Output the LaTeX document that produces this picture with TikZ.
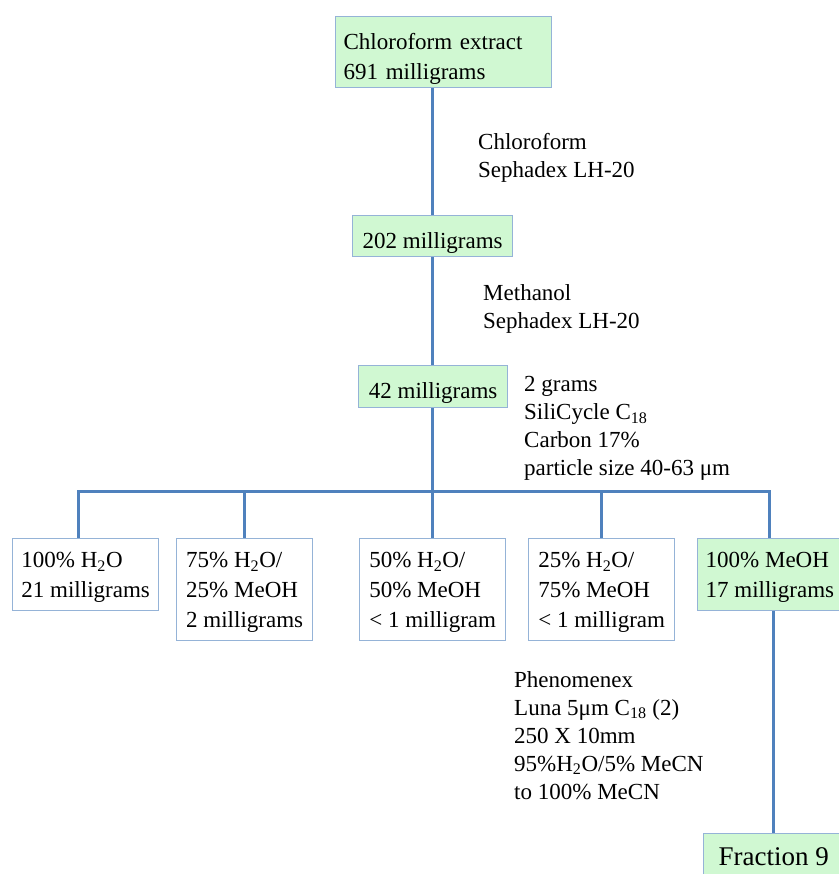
\documentclass[tikz,border=0pt]{standalone}
\usepackage{fontspec}
\setmainfont{Liberation Serif}
\usetikzlibrary{positioning}
\definecolor{linkblue}{RGB}{79,129,189}
\definecolor{boxblue}{RGB}{149,179,215}
\definecolor{stagegreen}{RGB}{208,248,210}

\begin{document}
\begin{tikzpicture}
  [x=1pt, y=-1pt,
   stage/.style={
     draw=boxblue,
     line width=1.3pt,
     anchor=north west,
     align=left,
     inner xsep=8pt,
     inner ysep=0pt,
     text depth=0pt,
     execute at begin node={\rule{0pt}{24pt}},
     font=\fontsize{23}{30}\selectfont
     },
   kept/.style={stage, fill=stagegreen},
   column/.style={anchor=north west, align=left, inner sep=0pt, font=\fontsize{23}{28}\selectfont},
   link/.style={draw=linkblue, line width=3pt}
  ]
  \useasboundingbox (0,0) rectangle (838,874);

  % fractions carried forward
  \node [kept, text width=200pt, text depth=30pt, minimum height=71pt] (extract) at (335,16) {Chloroform extract\\691 milligrams};
  \node [kept, minimum width=160pt, minimum height=41pt] (lhfirst) at (352,215) {202 milligrams};
  \node [kept, minimum width=149pt, minimum height=42pt] (lhsecond) at (358,365) {42 milligrams};

  % column conditions
  \node [column] (chlorotitle) at (478,133) {Chloroform\\Sephadex LH-20};
  \node [column] (methanoltitle) at (483,284) {Methanol\\Sephadex LH-20};
  \node [column] (silicatitle) at (524,376) {2 grams\\SiliCycle C\textsubscript{18}\\Carbon 17\%\\particle size 40-63 μm};
  \node [column] (lunatitle) at (514,671) {Phenomenex\\Luna 5μm C\textsubscript{18} (2)\\250 X 10mm\\95\%H\textsubscript{2}O/5\% MeCN\\to 100\% MeCN};

  % step gradient on C18
  \node [stage, minimum width=146pt, minimum height=72pt] (water) at (12,538) {100\% H\textsubscript{2}O\\21 milligrams};
  \node [stage, minimum width=136pt, minimum height=102pt] (mixone) at (176,538) {75\% H\textsubscript{2}O/\\25\% MeOH\\2 milligrams};
  \node [stage, minimum width=146pt, minimum height=102pt] (mixtwo) at (359,538) {50\% H\textsubscript{2}O/\\50\% MeOH\\< 1 milligram};
  \node [stage, minimum width=146pt, minimum height=102pt] (mixthree) at (528,538) {25\% H\textsubscript{2}O/\\75\% MeOH\\< 1 milligram};
  \node [kept, minimum width=137pt, minimum height=72pt] (methanol) at (697,538) {100\% MeOH\\17 milligrams};

  \node [kept, minimum width=140pt, minimum height=50pt, text depth=10pt, align=center, font=\fontsize{27}{30}\selectfont] (fraction) at (703,833) {Fraction 9};

  \coordinate (trunk) at (432,0);
  \coordinate (bus) at (0,491);

  \draw[link] (extract.south -| trunk) -- (lhfirst.north -| trunk);
  \draw[link] (lhfirst.south -| trunk) -- (lhsecond.north -| trunk);
  \draw[link] (lhsecond.south -| trunk) -- (bus -| trunk);
  \draw[link] ([xshift=-7pt]water.north) |- (bus -| methanol.north) -- (methanol.north);
  \draw[link] (bus -| mixone.north) -- (mixone.north);
  \draw[link] (bus -| mixtwo.north) -- (mixtwo.north);
  \draw[link] (bus -| mixthree.north) -- (mixthree.north);
  \draw[link] (methanol.south -| fraction.north) -- (fraction.north);
\end{tikzpicture}
\end{document}
